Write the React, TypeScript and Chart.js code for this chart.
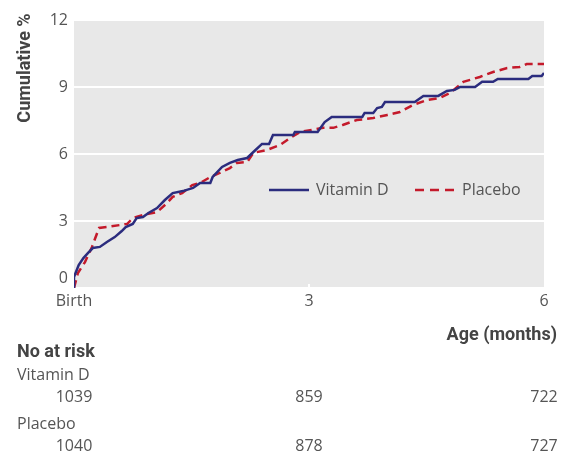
import React, { useEffect, useRef } from "react";
import { Chart, registerables } from "chart.js";

Chart.register(...registerables);

// ---- Data ----
const vitDMonths = [0, 0, 0.06, 0.12, 0.18, 0.24, 0.33, 0.42, 0.52, 0.61, 0.66, 0.75, 0.80, 0.88, 0.95, 1.06, 1.16, 1.26, 1.39, 1.52, 1.61, 1.74, 1.77, 1.89, 1.99, 2.09, 2.21, 2.29, 2.40, 2.49, 2.54, 2.80, 2.82, 3.11, 3.20, 3.29, 3.68, 3.71, 3.82, 3.87, 3.93, 3.97, 4.35, 4.46, 4.65, 4.76, 4.86, 4.93, 5.12, 5.21, 5.35, 5.41, 5.80, 5.85, 5.97, 6.0];
const vitDPct = [0, 0.49, 1.03, 1.34, 1.57, 1.79, 1.84, 2.06, 2.28, 2.55, 2.73, 2.87, 3.13, 3.18, 3.36, 3.58, 3.94, 4.25, 4.34, 4.48, 4.70, 4.70, 4.97, 5.42, 5.60, 5.73, 5.82, 6.09, 6.45, 6.45, 6.85, 6.85, 6.99, 6.99, 7.43, 7.66, 7.66, 7.84, 7.84, 8.06, 8.11, 8.33, 8.33, 8.60, 8.60, 8.82, 8.87, 9.00, 9.00, 9.23, 9.23, 9.36, 9.36, 9.49, 9.49, 9.63];

const placeboMonths = [0, 0.05, 0.14, 0.23, 0.32, 0.42, 0.68, 0.75, 0.88, 1.06, 1.19, 1.26, 1.38, 1.51, 1.61, 1.74, 1.86, 1.99, 2.08, 2.21, 2.29, 2.46, 2.63, 2.76, 2.89, 3.18, 3.31, 3.43, 3.61, 3.82, 4.00, 4.16, 4.33, 4.51, 4.67, 4.80, 4.97, 5.18, 5.35, 5.53, 5.69, 5.78, 6.0];
const placeboPct = [0, 0.67, 1.16, 1.84, 2.69, 2.73, 2.87, 3.13, 3.27, 3.40, 3.81, 4.08, 4.25, 4.61, 4.70, 4.97, 5.15, 5.37, 5.60, 5.64, 6.05, 6.18, 6.40, 6.72, 6.99, 7.17, 7.17, 7.30, 7.52, 7.61, 7.75, 7.88, 8.20, 8.42, 8.51, 8.73, 9.23, 9.45, 9.67, 9.85, 9.90, 10.03, 10.03];

const xTickValues = [0, 3, 6];
const xTickLabels = ["Birth", "3", "6"];

const riskTimes = [0, 3, 6];
const riskVitD = [1039, 859, 722];
const riskPlacebo = [1040, 878, 727];

const seriesNames = ["Vitamin D", "Placebo"];

const NAVY = "#2b2c7e";
const RED = "#c41a2b";
const TEXT = "#555555";
const BOLD_TEXT = "#444444";
const REG_FONT = "'Open Sans', sans-serif";
const BOLD_FONT = "Roboto, sans-serif";

const toPoints = (xs: number[], ys: number[]) => xs.map((x, i) => ({ x, y: ys[i] }));

const decorPlugin = {
  id: "decor",
  beforeDraw(chart: any) {
    const { ctx, chartArea } = chart;
    ctx.save();
    ctx.fillStyle = "#e8e8e8";
    ctx.fillRect(chartArea.left, chartArea.top, chartArea.right - chartArea.left, chartArea.bottom - chartArea.top);
    ctx.restore();
  },
  beforeDatasetsDraw(chart: any) {
    const { ctx, chartArea, scales } = chart;
    ctx.save();
    ctx.strokeStyle = "#ffffff";
    ctx.lineWidth = 2;
    const x = scales.x.getPixelForValue(3);
    ctx.beginPath();
    ctx.moveTo(x, chartArea.bottom);
    ctx.lineTo(x, chartArea.bottom - 4);
    ctx.stroke();
    ctx.restore();
  },
  afterDraw(chart: any) {
    const { ctx, scales } = chart;
    const xs = scales.x;
    ctx.save();
    // y axis title
    ctx.save();
    ctx.translate(25, 68);
    ctx.rotate(-Math.PI / 2);
    ctx.font = `bold 18px ${BOLD_FONT}`;
    ctx.fillStyle = BOLD_TEXT;
    ctx.textAlign = "center";
    ctx.textBaseline = "middle";
    ctx.fillText("Cumulative %", 0, 0);
    ctx.restore();

    // legend
    const ds = chart.data.datasets;
    const legendY = 190;
    ctx.lineWidth = 2.5;
    ctx.strokeStyle = ds[0].borderColor;
    ctx.setLineDash([]);
    ctx.beginPath();
    ctx.moveTo(269, legendY);
    ctx.lineTo(309, legendY);
    ctx.stroke();
    ctx.strokeStyle = ds[1].borderColor;
    ctx.setLineDash([9, 6]);
    ctx.beginPath();
    ctx.moveTo(415, legendY);
    ctx.lineTo(455, legendY);
    ctx.stroke();
    ctx.setLineDash([]);
    ctx.font = `16px ${REG_FONT}`;
    ctx.fillStyle = TEXT;
    ctx.textAlign = "left";
    ctx.textBaseline = "middle";
    ctx.fillText(ds[0].label, 316, legendY);
    ctx.fillText(ds[1].label, 462, legendY);

    // x axis title
    ctx.font = `bold 18px ${BOLD_FONT}`;
    ctx.fillStyle = BOLD_TEXT;
    ctx.textAlign = "right";
    ctx.fillText("Age (months)", 557, 335);

    // number at risk
    ctx.textAlign = "left";
    ctx.fillText("No at risk", 17, 352);
    ctx.font = `16px ${REG_FONT}`;
    ctx.fillStyle = TEXT;
    ctx.fillText(seriesNames[0], 17, 375);
    ctx.fillText(seriesNames[1], 17, 424);
    ctx.textAlign = "center";
    riskTimes.forEach((t, i) => {
      const px = xs.getPixelForValue(t);
      ctx.fillText(String(riskVitD[i]), px, 397);
      ctx.fillText(String(riskPlacebo[i]), px, 446);
    });
    ctx.restore();
  },
};

export default function App() {
  const ref = useRef<HTMLCanvasElement>(null);
  useEffect(() => {
    if (!ref.current) return;
    const chart = new Chart(ref.current, {
      type: "line",
      data: {
        datasets: [
          {
            label: seriesNames[0],
            data: toPoints(vitDMonths, vitDPct),
            borderColor: NAVY,
            borderWidth: 2.5,
            pointRadius: 0,
            tension: 0,
            fill: false,
          },
          {
            label: seriesNames[1],
            data: toPoints(placeboMonths, placeboPct),
            borderColor: RED,
            borderWidth: 2.5,
            borderDash: [8, 5],
            pointRadius: 0,
            tension: 0,
            fill: false,
          },
        ],
      },
      options: {
        animation: false,
        responsive: false,
        events: [],
        layout: { padding: { left: 0, right: 31, top: 20, bottom: 0 } },
        plugins: {
          legend: { display: false },
          tooltip: { enabled: false },
        },
        scales: {
          x: {
            type: "linear",
            min: 0,
            max: 6,
            afterFit: (s: any) => {
              s.height = 167;
            },
            afterBuildTicks: (s: any) => {
              s.ticks = xTickValues.map((v) => ({ value: v }));
            },
            grid: { display: false, drawTicks: false },
            border: { display: false },
            ticks: {
              maxRotation: 0,
              autoSkip: false,
              padding: 4,
              color: TEXT,
              font: { family: REG_FONT, size: 16 },
              callback: (v: any) => {
                const i = xTickValues.indexOf(Number(v));
                return i >= 0 ? xTickLabels[i] : "";
              },
            },
          },
          y: {
            min: 0,
            max: 12,
            afterFit: (s: any) => {
              s.width = 74;
            },
            grid: { color: "#ffffff", lineWidth: 2, drawTicks: false },
            border: { display: false },
            ticks: {
              stepSize: 3,
              padding: 6,
              color: TEXT,
              font: { family: REG_FONT, size: 16 },
              callback: (v: any) => (Number(v) === 0 ? ["0", ""] : String(v)),
            },
          },
        },
      },
      plugins: [decorPlugin],
    });
    return () => chart.destroy();
  }, []);
  return (
    <div style={{ position: "absolute", left: 0, top: 0, width: 575, height: 455 }}>
      <canvas ref={ref} width={575} height={455} style={{ width: 575, height: 455 }} />
    </div>
  );
}
